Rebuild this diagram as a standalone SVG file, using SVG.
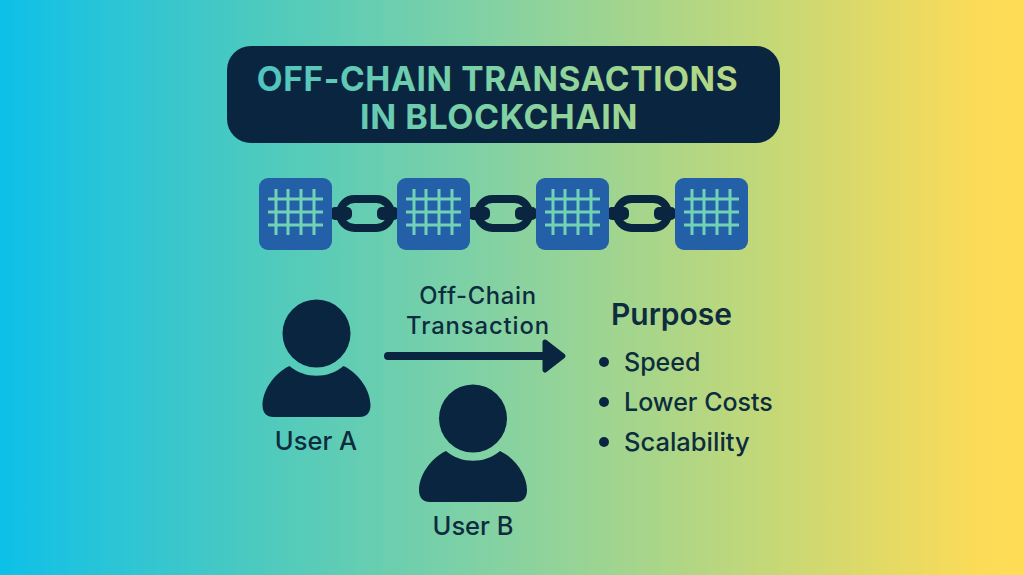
<svg xmlns="http://www.w3.org/2000/svg" width="1024" height="575" viewBox="0 0 1024 575">
<defs>
<linearGradient id="bg" gradientUnits="userSpaceOnUse" x1="0" y1="0" x2="1024" y2="0">
<stop offset="0" stop-color="#0cc0e8"/><stop offset="0.05" stop-color="#1cc2e0"/><stop offset="0.25" stop-color="#4ccabf"/><stop offset="0.5" stop-color="#88d2a0"/><stop offset="0.75" stop-color="#c4d877"/><stop offset="0.95" stop-color="#fadb58"/><stop offset="1" stop-color="#ffdc55"/>
</linearGradient>
<linearGradient id="tg" gradientUnits="userSpaceOnUse" x1="259" y1="0" x2="736" y2="0">
<stop offset="0" stop-color="#4fc4c0"/><stop offset="0.5" stop-color="#7fd2a4"/><stop offset="1" stop-color="#b8d882"/>
</linearGradient>
<g id="block"><rect x="0" y="0" width="73" height="72" rx="9" fill="#2360a8"/>
<path d="M9 21H64M9 34H64M9 47H64M17 11V57M29 11V57M42 11V57M55 11V57" stroke="#72d2b6" stroke-width="3" fill="none"/></g>
<g id="link"><rect x="8" y="-14.500" width="51" height="29" rx="14.500" fill="none" stroke="#0a2540" stroke-width="8"/>
<rect x="-2" y="-6.500" width="22" height="13" rx="5" fill="#0a2540"/><rect x="45" y="-6.500" width="22" height="13" rx="5" fill="#0a2540"/></g>
<path id="user" d="M-27 -21C-12 -8 12 -8 27 -21C44 -13 54 5 54 18C54 26 50 30 43 30H-43C-50 30 -54 26 -54 18C-54 5 -44 -13 -27 -21Z" fill="#0a2540"/>
</defs>
<style>
.t{font-family:"Inter","Liberation Sans",sans-serif;fill:#0d2c3e;text-anchor:middle;font-weight:500}
.h{font-family:"Inter","Liberation Sans",sans-serif;fill:url(#tg);text-anchor:middle;font-weight:700;font-size:33.500px;letter-spacing:0.6px}
.b{fill:#0a2540}
</style>
<rect width="1024" height="575" fill="url(#bg)"/>
<g id="title"><rect x="227" y="46" width="553" height="97" rx="24" fill="#0a2540"/>
<text class="h" x="497.500" y="91">OFF-CHAIN TRANSACTIONS</text>
<text class="h" x="499" y="129" style="font-size:34px">IN BLOCKCHAIN</text></g>
<g id="chain">
<use href="#link" x="332" y="213.500"/><use href="#link" x="470" y="213.500"/><use href="#link" x="609" y="213.500"/>
<use href="#block" x="259" y="178"/><use href="#block" x="397" y="178"/><use href="#block" x="536" y="178"/><use href="#block" x="675" y="178"/>
</g>
<g id="user-a"><circle cx="316.500" cy="333.500" r="34" class="b"/><use href="#user" x="316.500" y="387"/>
<text class="t" x="316" y="449.500" font-size="25.500">User A</text></g>
<g id="user-b"><circle cx="473" cy="418.500" r="34" class="b"/><use href="#user" x="473" y="472"/>
<text class="t" x="473" y="534.500" font-size="25.500">User B</text></g>
<g id="connectors">
<path d="M388 356H545" stroke="#0a2540" stroke-width="8" stroke-linecap="round" fill="none"/>
<path d="M545 342L563 356L545 370Z" fill="#0a2540" stroke="#0a2540" stroke-width="5" stroke-linejoin="round"/>
</g>
<g id="edge-label"><text class="t" x="478" y="304" font-size="23.800" letter-spacing="0.7">Off-Chain</text><text class="t" x="478" y="333.500" font-size="23.800" letter-spacing="0.9">Transaction</text></g>
<g id="purpose">
<text class="t" x="671.500" y="324.500" font-size="30" style="font-weight:600">Purpose</text>
<circle cx="604" cy="362" r="5" class="b"/><circle cx="604" cy="402" r="5" class="b"/><circle cx="604" cy="442" r="5" class="b"/>
<text class="t" x="624" y="370.500" font-size="25" style="text-anchor:start">Speed</text>
<text class="t" x="624" y="410.500" font-size="25" style="text-anchor:start">Lower Costs</text>
<text class="t" x="624" y="450.500" font-size="25.500" style="text-anchor:start">Scalability</text>
</g>
</svg>
